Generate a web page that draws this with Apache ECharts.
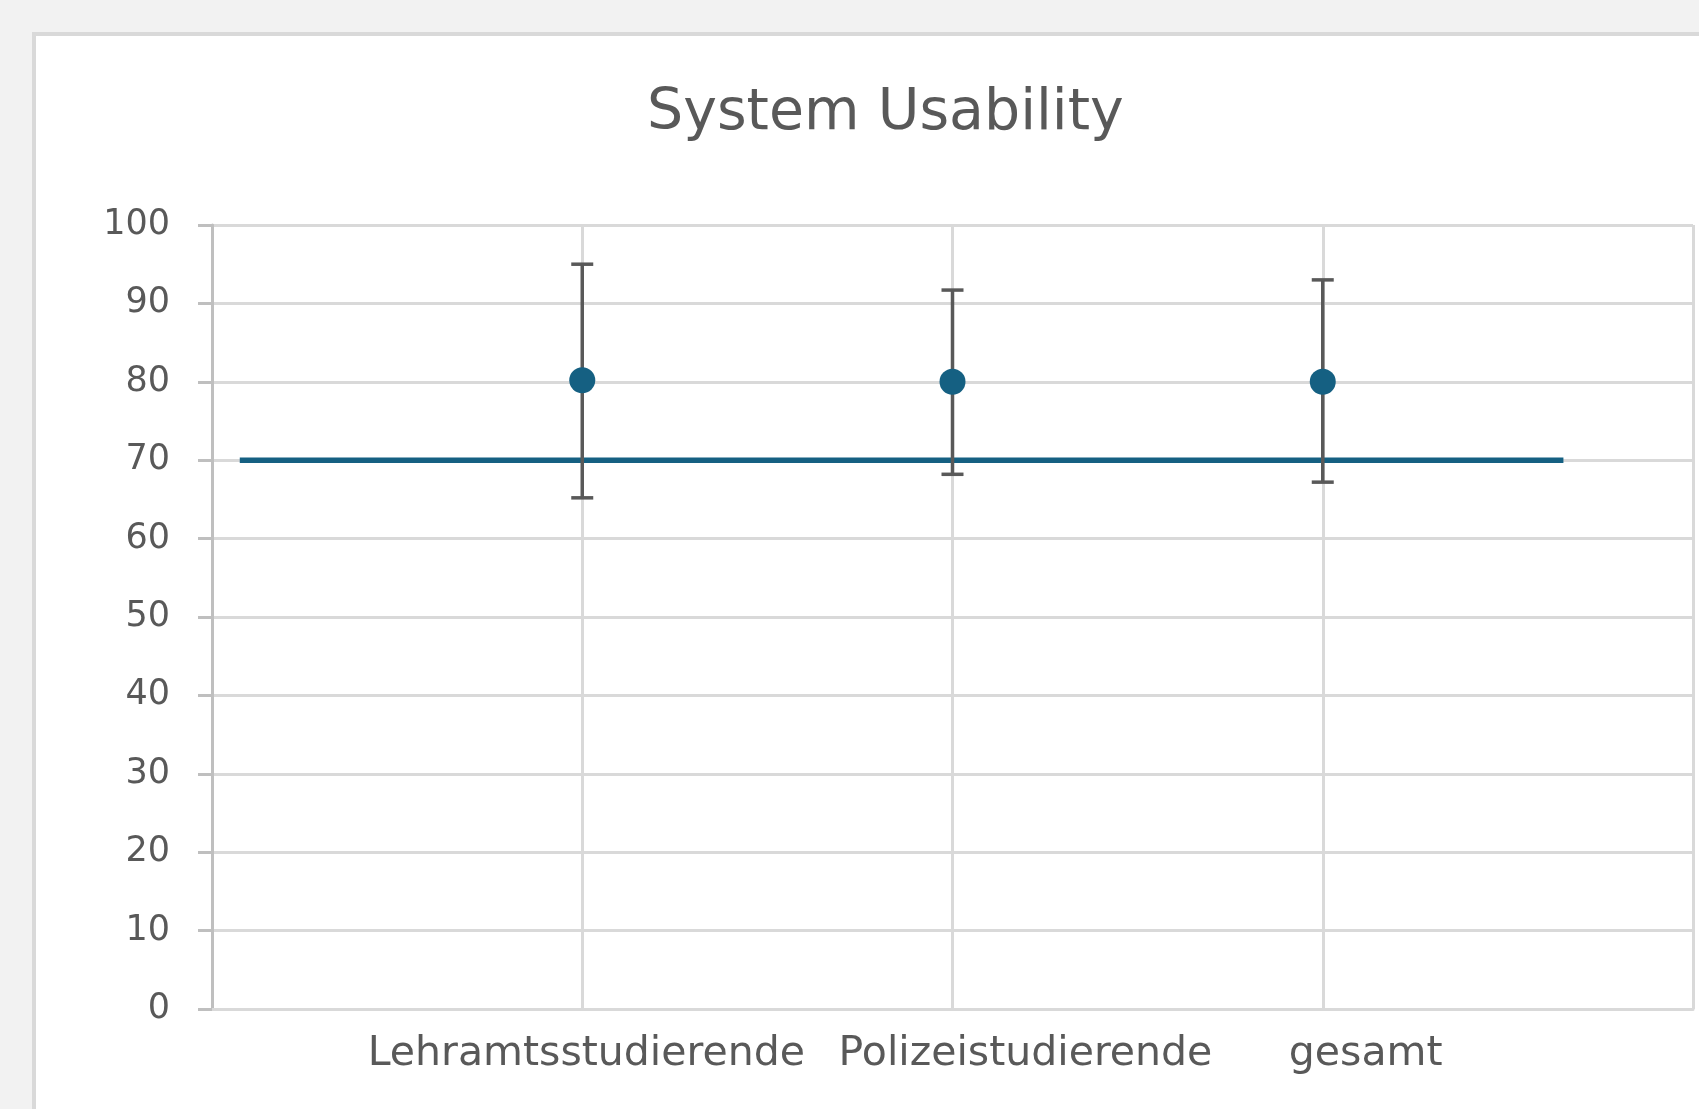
<!DOCTYPE html>
<html>
<head>
<meta charset="utf-8">
<script src="https://cdn.jsdelivr.net/npm/echarts@6/dist/echarts.min.js"></script>
<style>
  html, body { margin: 0; padding: 0; background: #f2f2f2; overflow: hidden; }
  #card {
    position: absolute; left: 32px; top: 32px;
    width: 2000px; height: 2000px;
    background: #ffffff; border: 4px solid #d9d9d9;
  }
  #chart { position: absolute; left: 0; top: 0; width: 1699px; height: 1109px; }
</style>
</head>
<body>
<div id="card"></div>
<div id="chart"></div>
<script>
var chart = echarts.init(document.getElementById("chart"), null, { renderer: "canvas" });

// groups, placed at x = 1, 2, 3
const groups = ["Lehramtsstudierende", "Polizeistudierende", "gesamt"];
const groupX = [1, 2, 3];
const means = [80.2, 80.0, 80.0];
const upper = [95.0, 91.7, 93.0];
const lower = [65.2, 68.2, 67.2];

// where the category labels sit on the x scale
const labelX = [1.011, 2.197, 3.116];

// reference line (SUS benchmark)
const refX = [0.075, 3.65];
const refY = [70, 70];

const yTicks = [0, 10, 20, 30, 40, 50, 60, 70, 80, 90, 100];

var font = "DejaVu Sans";
var textColor = "#595959";

var option = {
  animation: false,
  title: {
    text: "System Usability",
    left: 642,
    top: 81,
    textStyle: { fontFamily: font, fontSize: 57, fontWeight: "normal", color: textColor },
  },
  grid: { left: 212, top: 225, right: 6, bottom: 100 },
  xAxis: {
    type: "value",
    min: 0,
    max: 4,
    interval: 1,
    axisLine: { show: true, lineStyle: { color: "#d9d9d9", width: 3 } },
    axisTick: { show: false },
    splitLine: { show: true, lineStyle: { color: "#d9d9d9", width: 3 } },
    axisLabel: {
      customValues: labelX,
      margin: 25,
      fontFamily: font,
      fontSize: 41,
      color: textColor,
      formatter: function (v) {
        let best = 0;
        for (let i = 1; i < labelX.length; i++) {
          if (Math.abs(labelX[i] - v) < Math.abs(labelX[best] - v)) best = i;
        }
        return groups[best];
      },
    },
  },
  yAxis: {
    type: "value",
    min: yTicks[0],
    max: yTicks[yTicks.length - 1],
    interval: 10,
    axisLine: { show: true, lineStyle: { color: "#bfbfbf", width: 3 } },
    axisTick: { show: true, length: 14, lineStyle: { color: "#bfbfbf", width: 3 } },
    splitLine: { show: true, lineStyle: { color: "#d9d9d9", width: 3 } },
    axisLabel: { margin: 42, fontFamily: font, fontSize: 35, color: textColor },
  },
  series: [
    {
      name: "Benchmark",
      type: "line",
      data: refX.map((x, i) => [x, refY[i]]),
      showSymbol: false,
      lineStyle: { color: "#156082", width: 5.5, cap: "butt" },
      z: 2,
    },
    {
      name: "SD",
      type: "custom",
      data: groupX.map((x, i) => [x, lower[i], upper[i]]),
      renderItem: function (params, api) {
        var lo = api.coord([api.value(0), api.value(1)]);
        var hi = api.coord([api.value(0), api.value(2)]);
        var cap = 11;
        var style = { stroke: "#595959", lineWidth: 3.5 };
        return {
          type: "group",
          children: [
            { type: "line", shape: { x1: lo[0], y1: lo[1], x2: hi[0], y2: hi[1] }, style: style },
            { type: "line", shape: { x1: hi[0] - cap, y1: hi[1], x2: hi[0] + cap, y2: hi[1] }, style: style },
            { type: "line", shape: { x1: lo[0] - cap, y1: lo[1], x2: lo[0] + cap, y2: lo[1] }, style: style },
          ],
        };
      },
      z: 3,
    },
    {
      name: "Mittelwert",
      type: "scatter",
      data: groupX.map((x, i) => [x, means[i]]),
      symbol: "circle",
      symbolSize: 26,
      itemStyle: { color: "#156082", opacity: 1 },
      z: 4,
    },
  ],
};

chart.setOption(option);
</script>
</body>
</html>
